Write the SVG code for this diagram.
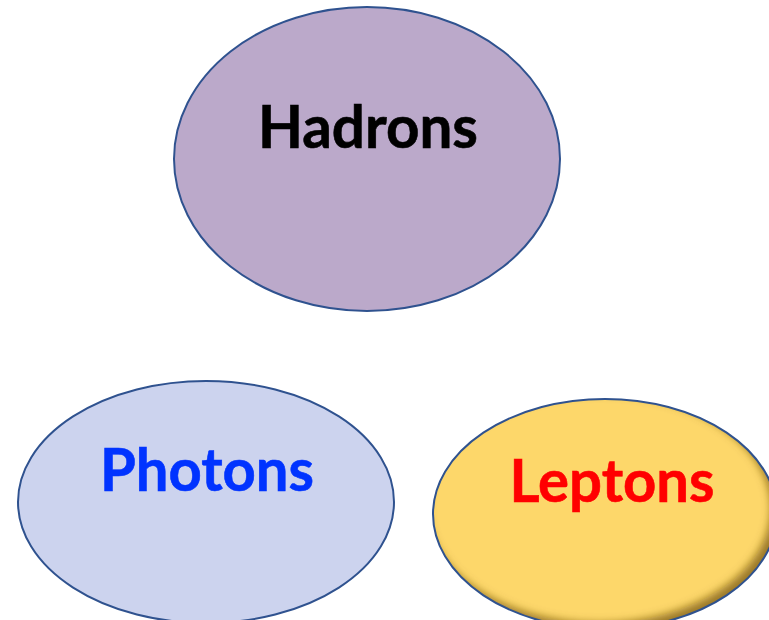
<svg xmlns="http://www.w3.org/2000/svg" width="769" height="620" viewBox="0 0 769 620">
  <style>
    .node { stroke: #2F528F; stroke-width: 2; }
    .label { font-family: Lato, "Open Sans", "Liberation Sans", sans-serif; font-weight: 700; font-size: 60px; text-anchor: middle; stroke-width: 0.6; }
  </style>
  <defs>
    <clipPath id="leptonsClip">
      <ellipse cx="605" cy="514" rx="172" ry="115"/>
    </clipPath>
    <filter id="soft" x="-20%" y="-20%" width="140%" height="140%">
      <feGaussianBlur stdDeviation="4"/>
    </filter>
  </defs>
  <rect width="769" height="620" fill="#FFFFFF"/>

  <g id="hadrons">
    <ellipse class="node" cx="367" cy="159" rx="193" ry="152" fill="#BBA9CA"/>
    <text class="label" x="368" y="148" fill="#000000" stroke="#000000" textLength="220" lengthAdjust="spacingAndGlyphs">Hadrons</text>
  </g>

  <g id="photons">
    <ellipse class="node" cx="206" cy="502" rx="188" ry="121" fill="#CCD3EE"/>
    <text class="label" x="207" y="491" fill="#0033FF" stroke="#0033FF" textLength="214" lengthAdjust="spacingAndGlyphs">Photons</text>
  </g>

  <g id="leptons">
    <ellipse cx="605" cy="514" rx="172" ry="115" fill="#FDD76A"/>
    <!-- inner shadow along the lower right rim -->
    <g clip-path="url(#leptonsClip)">
      <path d="M400 360 H800 V660 H400 Z M427 508 a172 115 0 1 0 344 0 a172 115 0 1 0 -344 0 Z" fill="#7A5A10" fill-opacity="0.75" fill-rule="evenodd" filter="url(#soft)"/>
    </g>
    <ellipse class="node" cx="605" cy="514" rx="172" ry="115" fill="none"/>
    <text class="label" x="612" y="502" fill="#FF0000" stroke="#FF0000" textLength="205" lengthAdjust="spacingAndGlyphs">Leptons</text>
  </g>

  <g id="connectors"/>
</svg>
